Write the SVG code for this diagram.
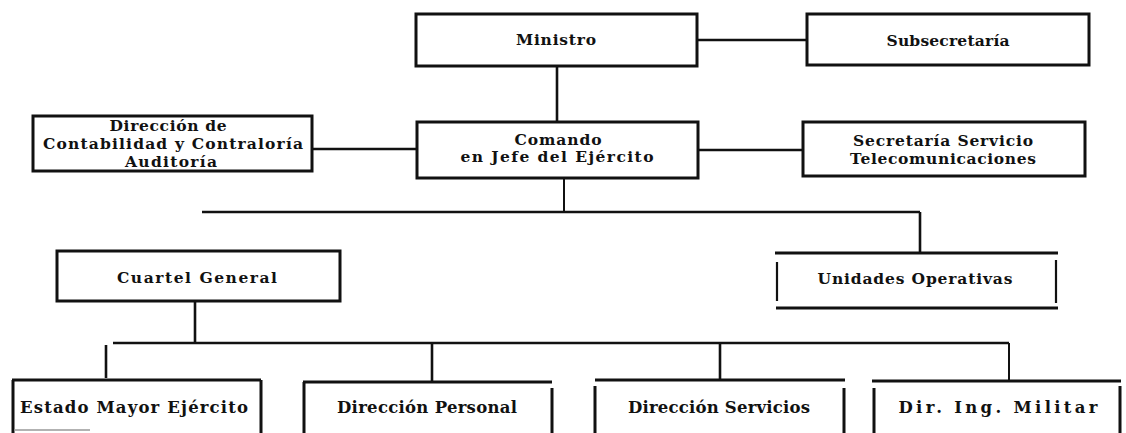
<svg xmlns="http://www.w3.org/2000/svg" width="1126" height="433" viewBox="0 0 1126 433">
<style>
.box{fill:#fff;stroke:#111;stroke-width:3}
.ln{stroke:#111;stroke-width:2.6;fill:none;stroke-linecap:butt}
.t{font-family:"DejaVu Serif","Liberation Serif",serif;font-weight:bold;font-size:15.5px;fill:#111;text-anchor:middle}
.tb{font-family:"DejaVu Serif","Liberation Serif",serif;font-weight:bold;font-size:16.5px;fill:#111;text-anchor:middle}
</style>
<rect width="1126" height="433" fill="#fff"/>
<g id="connectors">
<path class="ln" d="M697 40H807"/>
<path class="ln" d="M557 66V122"/>
<path class="ln" d="M312 149H417"/>
<path class="ln" d="M698 150H803"/>
<path class="ln" d="M564 178V212" style="stroke-width:2"/>
<path class="ln" d="M202 212H920"/>
<path class="ln" d="M920 212V253"/>
<path class="ln" d="M195 301V343"/>
<path class="ln" d="M113 343H1009"/>
<path class="ln" d="M106 345V378"/>
<path class="ln" d="M432 343V382"/>
<path class="ln" d="M720 343V380"/>
<path class="ln" d="M1009 343V381" style="stroke-width:2"/>
</g>
<g id="ministro">
<rect class="box" x="416" y="14" width="281" height="52"/>
<text class="t" x="556" y="45" textLength="80" lengthAdjust="spacing">Ministro</text>
</g>
<g id="subsecretaria">
<rect class="box" x="807" y="14" width="282" height="51"/>
<text class="t" x="948" y="46" textLength="123" lengthAdjust="spacing">Subsecretaría</text>
</g>
<g id="contabilidad">
<rect class="box" x="33" y="116" width="279" height="55"/>
<text class="t" x="168" y="131" textLength="117" lengthAdjust="spacing">Dirección  de</text>
<text class="t" x="173" y="149" textLength="260" lengthAdjust="spacing">Contabilidad y Contraloría</text>
<text class="t" x="171" y="167" textLength="92" lengthAdjust="spacing">Auditoría</text>
</g>
<g id="comando">
<rect class="box" x="417" y="122" width="281" height="56"/>
<text class="t" x="558" y="145" textLength="87" lengthAdjust="spacing">Comando</text>
<text class="t" x="557" y="162" textLength="193" lengthAdjust="spacing">en Jefe del Ejército</text>
</g>
<g id="secretaria">
<rect class="box" x="803" y="122" width="282" height="54"/>
<text class="t" x="943" y="146" textLength="180" lengthAdjust="spacing">Secretaría  Servicio</text>
<text class="t" x="943" y="164" textLength="186" lengthAdjust="spacing">Telecomunicaciones</text>
</g>
<g id="cuartel">
<rect class="box" x="57" y="251" width="283" height="50"/>
<text class="t" x="197" y="283" textLength="160" lengthAdjust="spacing">Cuartel  General</text>
</g>
<g id="unidades">
<path class="ln" d="M775 253H1058M776 308H1058" style="stroke-width:3"/>
<path class="ln" d="M777 262V301M1056 260V303" style="stroke-width:2.2"/>
<text class="t" x="915" y="284" textLength="195" lengthAdjust="spacing">Unidades  Operativas</text>
</g>
<g id="estado">
<path class="ln" d="M12 380H261M13 380V433M261 380V433" style="stroke-width:3"/>
<path d="M14 430H90" stroke="#999" stroke-width="1.5"/>
<text class="tb" x="134" y="413" textLength="228" lengthAdjust="spacing">Estado  Mayor  Ejército</text>
</g>
<g id="personal">
<path class="ln" d="M303 382H552M304 382V433M552 388V433" style="stroke-width:3"/>
<text class="tb" x="427" y="413" textLength="180" lengthAdjust="spacing">Dirección  Personal</text>
</g>
<g id="servicios">
<path class="ln" d="M595 380H845M595 386V433M844 388V433" style="stroke-width:3"/>
<text class="tb" x="719" y="413" textLength="182" lengthAdjust="spacing">Dirección  Servicios</text>
</g>
<g id="ingmilitar">
<path class="ln" d="M872 381H1121M874 388V433M1120 386V433" style="stroke-width:3"/>
<text class="tb" x="998" y="413" textLength="199" lengthAdjust="spacing">Dir.  Ing.  Militar</text>
</g>
</svg>
